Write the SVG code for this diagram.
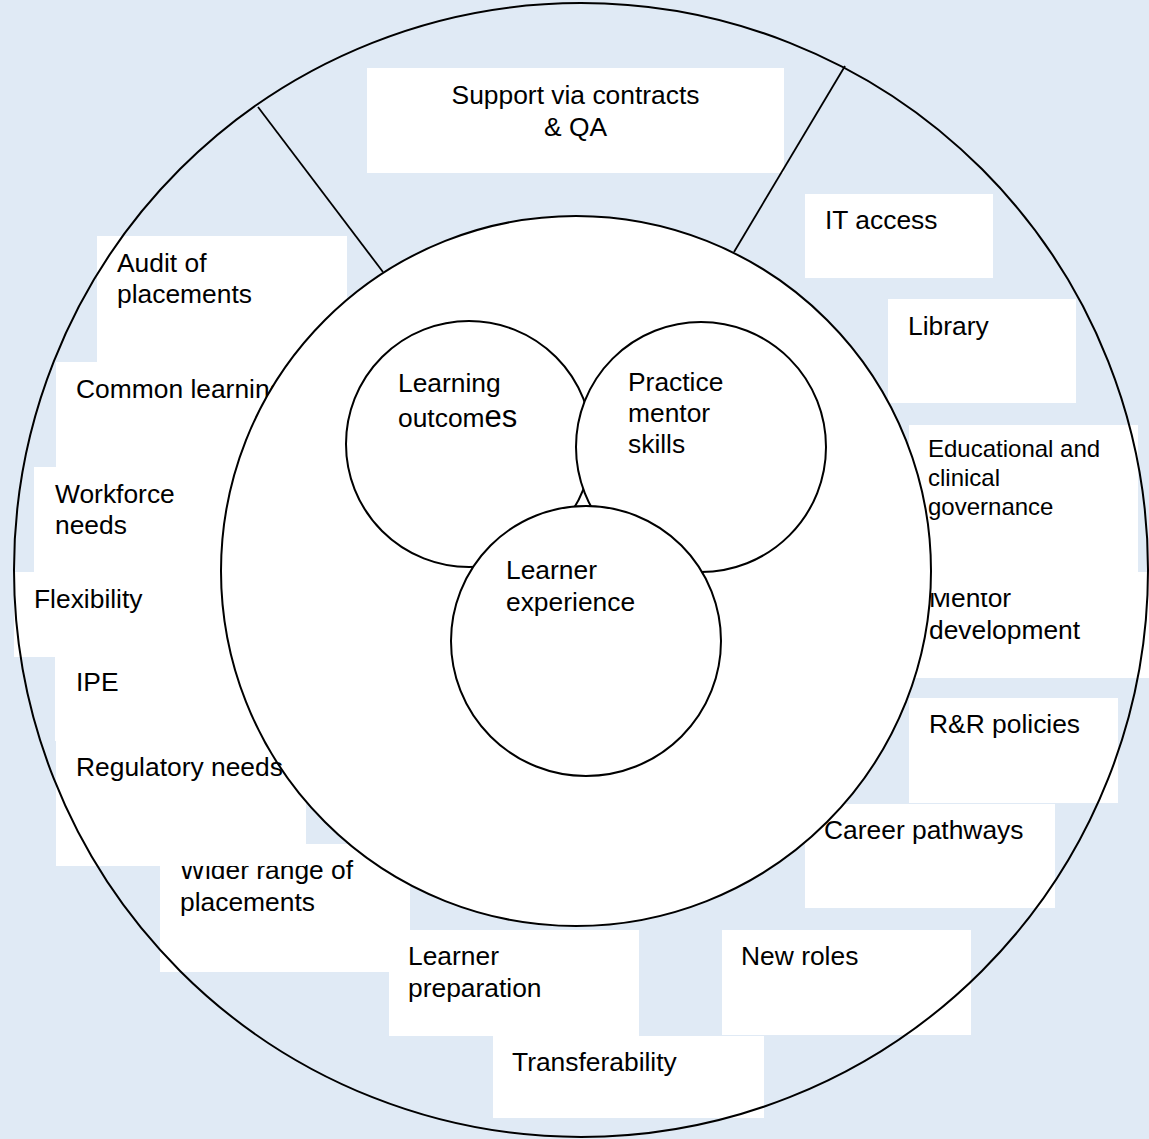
<svg xmlns="http://www.w3.org/2000/svg" width="1149" height="1139" viewBox="0 0 1149 1139">
  <style>
    .box { fill: #ffffff; stroke: none; }
    .t { font-family: "Liberation Sans", Arial, sans-serif; font-size: 26.4px; fill: #000000; }
    .ts { font-family: "Liberation Sans", Arial, sans-serif; font-size: 24px; fill: #000000; }
    .ring { fill: none; stroke: #000000; stroke-width: 2; }
    .circ { fill: #ffffff; stroke: #000000; stroke-width: 2; }
    .line { stroke: #000000; stroke-width: 1.8; fill: none; }
  </style>

  <rect id="background" x="0" y="0" width="1149" height="1139" fill="#e0eaf5"/>

  <g id="node-common-learning">
    <rect class="box" x="56" y="362" width="300" height="105"/>
    <text class="t" x="76" y="398">Common learning</text>
  </g>

  <circle id="inner-circle-fill" cx="576" cy="571" r="355" fill="#ffffff"/>

  <g id="node-support">
    <rect class="box" x="367" y="68" width="417" height="105"/>
    <text class="t" x="575.5" y="104" text-anchor="middle">Support via contracts</text>
    <text class="t" x="575.5" y="136" text-anchor="middle">&amp; QA</text>
  </g>

  <g id="node-it-access">
    <rect class="box" x="805" y="194" width="188" height="84"/>
    <text class="t" x="825" y="229">IT access</text>
  </g>

  <g id="node-library">
    <rect class="box" x="888" y="299" width="188" height="104"/>
    <text class="t" x="908" y="335">Library</text>
  </g>

  <g id="node-audit">
    <rect class="box" x="97" y="236" width="250" height="126"/>
    <text class="t" x="117" y="272">Audit of</text>
    <text class="t" x="117" y="303">placements</text>
  </g>

  <g id="node-workforce">
    <rect class="box" x="34" y="467" width="300" height="105"/>
    <text class="t" x="55" y="503">Workforce</text>
    <text class="t" x="55" y="534">needs</text>
  </g>

  <g id="node-flexibility">
    <rect class="box" x="14" y="572" width="300" height="85"/>
    <text class="t" x="34" y="608">Flexibility</text>
  </g>

  <g id="node-ipe">
    <rect class="box" x="55" y="657" width="250" height="84"/>
    <text class="t" x="76" y="691">IPE</text>
  </g>

  <g id="node-mentor-development">
    <rect class="box" x="909" y="572" width="240" height="106"/>
    <text class="t" x="929" y="607">Mentor</text>
    <text class="t" x="929" y="639">development</text>
  </g>

  <g id="node-governance">
    <rect class="box" x="909" y="425" width="229" height="168"/>
    <text class="ts" x="928" y="457">Educational and</text>
    <text class="ts" x="928" y="486">clinical</text>
    <text class="ts" x="928" y="515">governance</text>
  </g>

  <g id="node-rr-policies">
    <rect class="box" x="909" y="698" width="209" height="105"/>
    <text class="t" x="929" y="733">R&amp;R policies</text>
  </g>

  <g id="node-career-pathways">
    <rect class="box" x="805" y="804" width="250" height="104"/>
    <text class="t" x="824" y="839">Career pathways</text>
  </g>

  <g id="node-wider-range">
    <rect class="box" x="160" y="844" width="250" height="128"/>
    <text class="t" x="180" y="879">Wider range of</text>
    <text class="t" x="180" y="911">placements</text>
  </g>

  <g id="node-regulatory">
    <rect class="box" x="56" y="741" width="250" height="125"/>
    <text class="t" x="76" y="776">Regulatory needs</text>
  </g>

  <g id="node-learner-preparation">
    <rect class="box" x="389" y="930" width="250" height="106"/>
    <text class="t" x="408" y="965">Learner</text>
    <text class="t" x="408" y="997">preparation</text>
  </g>

  <g id="node-new-roles">
    <rect class="box" x="722" y="930" width="249" height="105"/>
    <text class="t" x="741" y="965">New roles</text>
  </g>

  <g id="node-transferability">
    <rect class="box" x="493" y="1036" width="271" height="82"/>
    <text class="t" x="512" y="1071">Transferability</text>
  </g>

  <g id="node-learning-outcomes">
    <circle class="circ" cx="469" cy="444" r="123"/>
    <text class="t" x="398" y="392">Learning</text>
    <text class="t" x="398" y="427">outcom<tspan font-size="31px">es</tspan></text>
  </g>

  <g id="node-practice-mentor-skills">
    <circle class="circ" cx="701" cy="447" r="125"/>
    <text class="t" x="628" y="391">Practice</text>
    <text class="t" x="628" y="422">mentor</text>
    <text class="t" x="628" y="453">skills</text>
  </g>

  <g id="node-learner-experience">
    <circle class="circ" cx="586" cy="641" r="135"/>
    <text class="t" x="506" y="579">Learner</text>
    <text class="t" x="506" y="611">experience</text>
  </g>

  <g id="rings">
    <circle id="outer-ring" class="ring" cx="581" cy="570" r="567"/>
    <circle id="inner-ring" class="ring" cx="576" cy="571" r="355"/>
  </g>

  <g id="connectors">
    <line class="line" x1="258" y1="107" x2="383" y2="272"/>
    <line class="line" x1="845" y1="66" x2="734" y2="252"/>
  </g>
</svg>
